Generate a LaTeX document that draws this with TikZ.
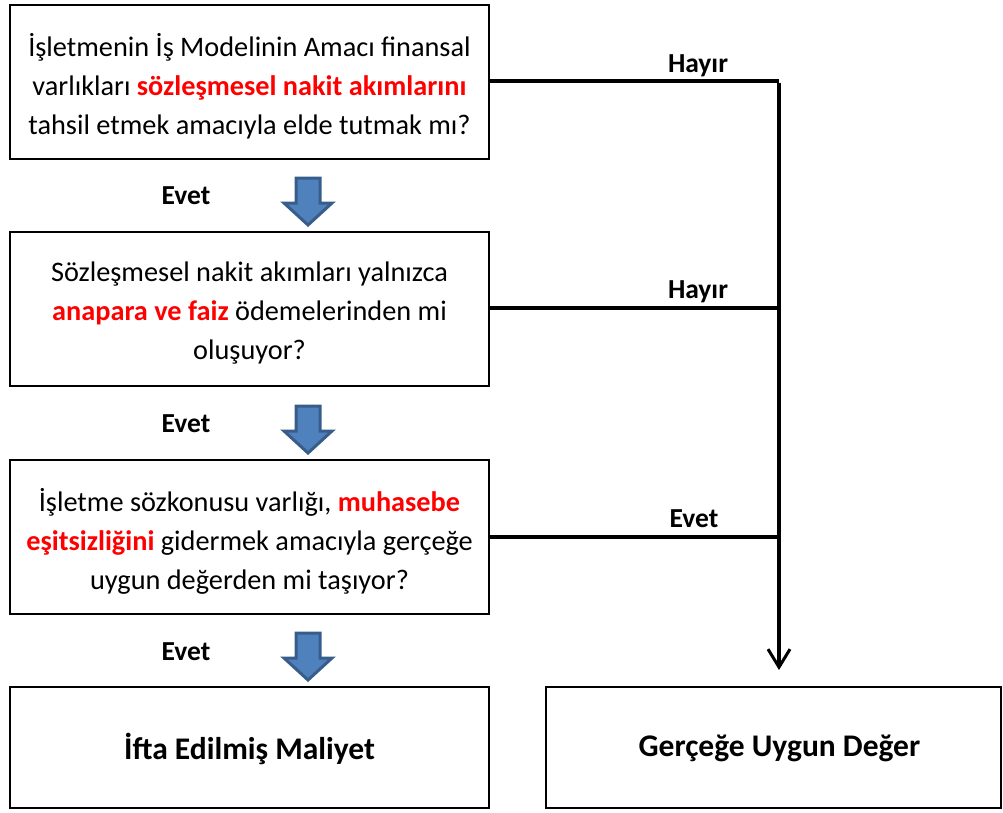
\documentclass[tikz,border=0pt]{standalone}
\usepackage{fontspec}
\setmainfont{Carlito}
\usetikzlibrary{arrows.meta}
\definecolor{bred}{HTML}{FF0000}
\definecolor{afill}{HTML}{4F81BD}
\definecolor{aline}{HTML}{385D8A}
\tikzset{
  qbox/.style={draw=black, line width=2.5pt, minimum width=479pt, minimum height=154pt, inner sep=0pt},
  rbox/.style={draw=black, line width=2.5pt, minimum height=121pt, inner sep=0pt},
  qtext/.style={align=center, font=\fontsize{28.3}{39}\selectfont},
  lbl/.style={font=\fontsize{27.5}{30}\selectfont\bfseries},
  rtext/.style={font=\fontsize{31.5}{34}\selectfont\bfseries},
  conn/.style={line width=3.3pt},
  blockarrow/.style={fill=afill, draw=aline, line width=3pt, line join=miter},
}
\newcommand{\hl}[1]{\textcolor{bred}{\bfseries #1}}
\newcommand{\barrow}[2]{%
  \fill[blockarrow] (#1-12,#2) -- (#1+12,#2) -- (#1+12,#2+25) -- (#1+24,#2+25) -- (#1,#2+47) -- (#1-24,#2+25) -- (#1-12,#2+25) -- cycle;}
\begin{document}
\begin{tikzpicture}[x=1pt,y=-1pt]
\useasboundingbox (0,0) rectangle (1003,812);
\node[qbox] (q1) at (249.5,82) {};
\node[qtext] (t1) at ([yshift=-4pt]q1.center) {İşletmenin İş Modelinin Amacı finansal\\varlıkları \hl{sözleşmesel nakit akımlarını}\\tahsil etmek amacıyla elde tutmak mı?};
\node[qbox] (q2) at (249.5,309) {};
\node[qtext] (t2) at ([yshift=-4pt]q2.center) {Sözleşmesel nakit akımları yalnızca\\\hl{anapara ve faiz} ödemelerinden mi\\oluşuyor?};
\node[qbox] (q3) at (249.5,537) {};
\node[qtext] (t3) at ([yshift=-4pt]q3.center) {İşletme sözkonusu varlığı, \hl{muhasebe}\\\hl{eşitsizliğini} gidermek amacıyla gerçeğe\\uygun değerden mi taşıyor?};
\node[rbox, minimum width=479pt] (r1) at (249.5,747.5) {};
\node[rtext] (rt1) at ([yshift=-1pt]r1.center) {İfta Edilmiş Maliyet};
\node[rbox, minimum width=455pt] (r2) at (773.5,747.5) {};
\node[rtext] (rt2) at ([xshift=6pt,yshift=-1pt]r2.center) {Gerçeğe Uygun Değer};
\coordinate (j1) at (779,81);
\coordinate (j2) at (779,308);
\coordinate (j3) at (779,537);
\coordinate (tip) at (779,670);
\draw[conn] (q1.east |- j1) -- (j1);
\draw[conn] (q2.east |- j2) -- (j2);
\draw[conn] (q3.east |- j3) -- (j3);
\draw[conn, -{Straight Barb[length=18pt,width=22pt,line width=3pt]}] ([yshift=-1.6pt]j1) -- (tip);
\node[lbl] (h1) at (698,66) {Hayır};
\node[lbl] (h2) at (698,292) {Hayır};
\node[lbl] (h3) at (694,519) {Evet};
\node[lbl] (e1) at (186,196) {Evet};
\node[lbl] (e2) at (186,424) {Evet};
\node[lbl] (e3) at (186,652) {Evet};
\barrow{308}{178}
\barrow{308}{406}
\barrow{308}{633}
\end{tikzpicture}
\end{document}
